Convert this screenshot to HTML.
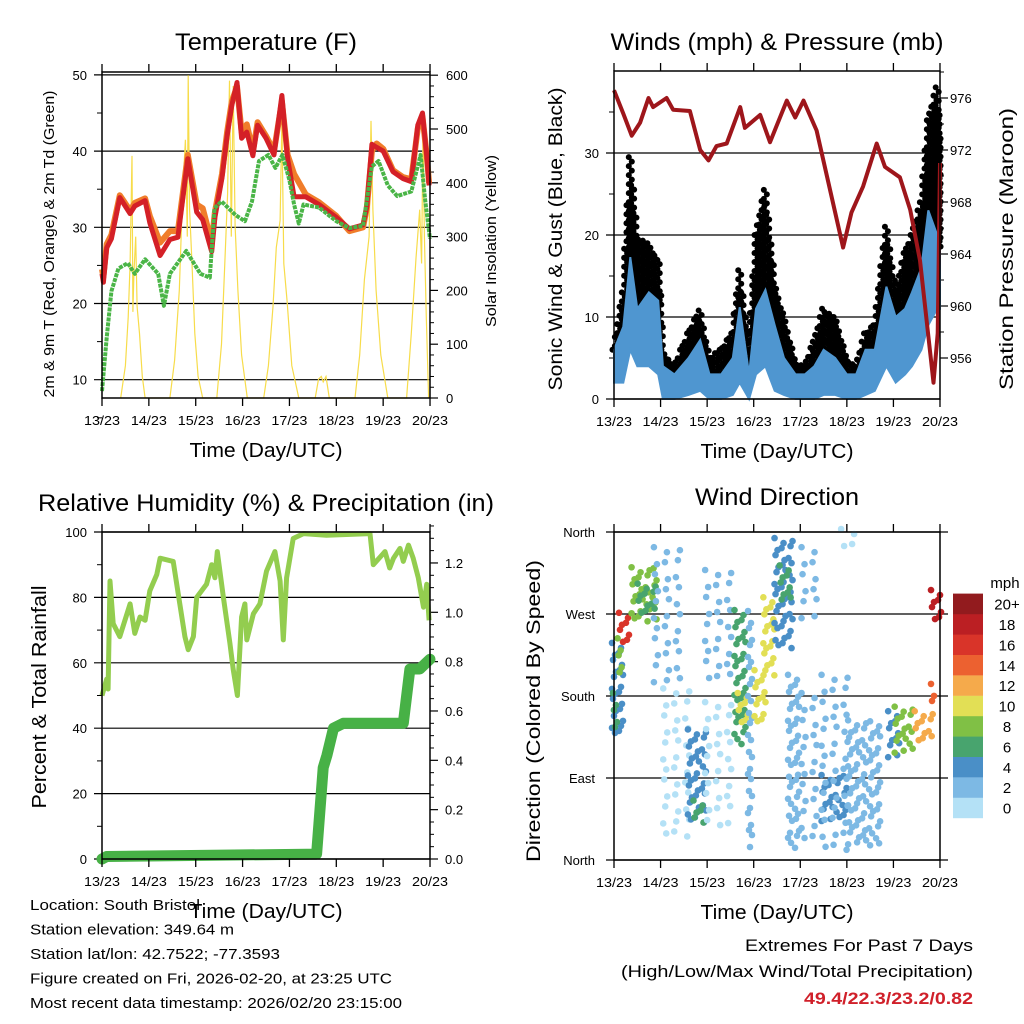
<!DOCTYPE html>
<html><head><meta charset="utf-8"><style>
html,body{margin:0;padding:0;background:#fff;}
svg{display:block;font-family:"Liberation Sans",sans-serif;}
</style></head><body>
<svg id="chart" width="1024" height="1024" viewBox="0 0 1024 1024"></svg>
<script>
// ---------- DATA ----------
const dayLabels=['13/23','14/23','15/23','16/23','17/23','18/23','19/23','20/23'];
const tempTicks=[10,20,30,40,50];
const solarTicks=[0,100,200,300,400,500,600];
const windTicks=[0,10,20,30];
const presTicks=[956,960,964,968,972,976];
const rhTicks=[0,20,40,60,80,100];
const precTicks=[0.0,0.2,0.4,0.6,0.8,1.0,1.2];
const dirTickLabels=['North','East','South','West','North'];
const dirTickDeg=[0,90,180,270,360];
const legendLabels=['0','2','4','6','8','10','12','14','16','18','20+'];

const tT=[0,0.03,0.1,0.2,0.38,0.6,0.7,0.92,1.02,1.24,1.45,1.62,1.83,2.02,2.15,2.34,2.41,2.56,2.67,2.77,2.88,2.98,3.09,3.22,3.32,3.5,3.67,3.84,3.96,4.1,4.35,4.63,5.0,5.28,5.57,5.65,5.76,5.86,6.0,6.21,6.42,6.6,6.74,6.84,6.93,6.98];
const tRed=[23.9,22.8,27.3,28.5,33.9,31.8,32.8,33.5,30.6,26.3,28.4,28.7,39,32,31,26.8,31.3,36.5,42,46,49,41.7,42.5,39.4,43.4,41.7,39.5,47.3,39,34,34,33,31.3,29.8,30.3,32.7,40.9,40.5,40,37.3,36.4,36,43.4,45,39.4,35.5];
const tOrange=[24.5,23.5,27.8,29,34.2,32.2,33.2,33.8,31.5,28,29.5,29.5,39.5,33,32.5,28,32,37,42.5,46.5,48.5,42.5,43.5,40,43.8,42,40,46.5,39.5,37,34.3,33.3,31.5,29.5,30,32.5,40,41,40.3,37.5,36.6,36.3,43,44.5,39.5,35.8];
const tdT=[0,0.1,0.2,0.35,0.55,0.7,0.92,1.2,1.32,1.45,1.8,2.1,2.3,2.4,2.55,2.85,3.05,3.2,3.35,3.55,3.7,3.85,4.0,4.1,4.2,4.3,4.63,5.0,5.28,5.57,5.76,5.9,6.1,6.3,6.6,6.8,6.9,7.0];
const tDew=[8.5,15.5,21.6,24.6,25.3,23.9,25.8,23.9,19.7,23.9,26.9,23.9,23.4,32.5,33.4,31.6,30.8,33.4,38.7,39.5,37.8,39.5,36.2,33,30.5,33,32.6,30.8,29.9,30.2,38,38.7,35.5,34.1,34.7,39.5,33.4,28.5];
const solT=[0.4,0.5,0.56,0.6,0.64,0.66,0.68,0.72,0.75,0.8,0.86,0.92,1.45,1.55,1.65,1.72,1.78,1.82,1.84,1.87,1.92,1.98,2.05,2.15,2.45,2.55,2.62,2.68,2.72,2.76,2.8,2.84,2.9,2.98,3.1,3.45,3.55,3.65,3.72,3.8,3.84,3.88,3.95,4.05,4.2,4.55,4.62,4.68,4.72,4.78,4.85,5.4,5.5,5.6,5.7,5.74,5.78,5.85,5.95,6.1,6.5,6.6,6.7,6.78,6.82,6.85,6.88,6.92,6.97];
const solV=[0,60,150,250,450,160,230,300,170,120,40,0,0,70,200,380,480,300,600,350,250,120,40,0,0,100,250,380,590,300,580,320,200,80,0,0,60,170,280,330,515,250,180,60,0,0,35,40,30,40,0,0,80,220,300,515,350,200,80,0,0,120,260,350,250,500,300,150,0];

const wT=[0,0.2,0.35,0.5,0.75,0.95,1.05,1.3,1.6,1.85,2.05,2.3,2.55,2.7,2.9,3.05,3.25,3.45,3.65,3.9,4.1,4.3,4.5,4.75,5.0,5.2,5.4,5.6,5.85,6.05,6.25,6.4,6.6,6.75,6.94,7.0];
const wLo=[2,2,6,4,4,3,0,0,0.5,1,0,0,0.5,2,0,3,4,1,0.5,0,0,0,0.5,0.5,0,0,0.5,1,4,2,3,4,6,9,11,11];
const wHi=[6,8.8,17.3,11,13,12,4,3,5,7.2,3,3,5,11.2,3,11,13.3,9,5,3,3,4,6,5,3,3,6,6,13.7,10,11,13,16,23,20,18];
const gHi=[6,13,29.5,19.8,19,17,6,4,8,10.8,5,6,8,15.7,6,20,25.5,14,10,4.5,4,7,11,10,5,4,8,9,21,13,17.8,20,24,34,38,30];
const pT=[0,0.2,0.38,0.56,0.74,0.84,1.13,1.27,1.63,1.85,2.03,2.2,2.42,2.71,2.81,3.14,3.35,3.71,3.89,4.07,4.35,4.92,5.1,5.35,5.64,5.82,6.14,6.36,6.57,6.86,6.95,7.0];
const pV=[976.6,974.8,973.1,974.1,976,975.3,976,975.1,975,972,971.2,972.3,972.5,975.3,973.7,974.7,972.6,975.8,974.5,975.8,973.5,964.5,967.2,969.2,972.5,970.7,969.9,967.4,963.5,954.1,957.9,971];

const rhT=[0,0.1,0.13,0.17,0.24,0.38,0.6,0.7,0.81,0.92,1.02,1.17,1.24,1.52,1.66,1.77,1.84,1.95,2.02,2.23,2.34,2.41,2.46,2.59,2.73,2.8,2.89,2.98,3.05,3.09,3.23,3.37,3.51,3.69,3.8,3.87,3.94,4.08,4.3,4.79,5.72,5.79,6.04,6.14,6.22,6.36,6.43,6.54,6.64,6.75,6.86,6.93,6.98];
const rhV=[50,55,52,85,72,68,78,69,74,73,82,87,92,91,78,68,64,68,80,84,90,86,94,80,66,58,50,74,78,67,75,78,88,94,85,67,86,98,99.5,99,99.5,90,94,89,92,95,91,96,92,86,77,84,73];
const prT=[0,0.1,4.58,4.72,4.8,4.94,5.15,6.43,6.57,6.78,7.0];
const prV=[0,0.01,0.02,0.37,0.42,0.53,0.55,0.55,0.77,0.77,0.81];

const segT0=[0,0.02,0.15,0.12,0.42,0.55,0.9,1.1,1.63,1.75,2.0,2.0,2.63,2.7,2.92,3.06,3.25,3.49,3.6,3.78,4.07,4.07,4.5,4.5,4.92,5.07,5.93,6.07,6.5,6.85,6.85];
const segT1=[0.15,0.12,0.42,0.25,1.0,0.9,1.55,1.6,1.99,1.95,2.63,2.6,2.92,2.85,3.06,3.25,3.49,3.85,3.75,4.07,4.5,4.5,5.07,5.07,5.2,5.78,6.21,6.5,6.93,7.0,6.95];
const segD0=[130,140,240,200,265,270,190,25,40,40,190,40,124,150,10,150,200,234,280,10,255,10,40,5,345,10,115,115,125,265,170];
const segD1=[235,180,268,240,318,300,340,185,140,62,315,170,271,180,270,205,285,350,320,200,340,180,90,200,360,150,160,165,160,293,190];
const segSpd=[4,6,16,8,9,6,2,1,4,6,2,0,6,10,3,10,11,4,6,3,2,2,4,2,1,3,5,9,13,19,14];

// ---------- HELPERS ----------
const NS='http://www.w3.org/2000/svg';
const svg=document.getElementById('chart');
function mk(tag,attrs,parent){const e=document.createElementNS(NS,tag);for(const k in attrs)e.setAttribute(k,attrs[k]);(parent||svg).appendChild(e);return e;}
function tx(x,y,s,size,anchor,len,parent,extra){
  const a=Object.assign({x:x,y:y,'font-size':size,'text-anchor':anchor||'middle',fill:'#000'},extra||{});
  if(len){a.textLength=len;a.lengthAdjust='spacingAndGlyphs';}
  const e=mk('text',a,parent);e.textContent=s;return e;}
function poly(xs,ys){return xs.map((x,i)=>x.toFixed(1)+','+ys[i].toFixed(1)).join(' ');}
const speedColors=['#b4e1f6','#7db9e4','#4a8fc7','#48a46e','#80c045','#e2df55','#f5aa4b','#ec6130','#d93429','#bb1f23','#921b1e'];
function spdColor(v){return speedColors[Math.min(10,Math.max(0,Math.floor(v/2)))];}

function frame(g,x0,x1,y0,y1,name){const r=mk('rect',{x:x0,y:y0,width:x1-x0,height:y1-y0,fill:'none',stroke:'#000','stroke-width':1.5},g);}
function xAxis(g,x0,step,yb,ytop){
  const ax=mk('g',{},g);
  
  
  dayLabels.forEach((d,i)=>{const x=x0+i*step;
    mk('line',{x1:x,x2:x,y1:yb,y2:yb+8,stroke:'#000','stroke-width':1.3},ax);
    mk('line',{x1:x,x2:x,y1:ytop,y2:ytop-8,stroke:'#000','stroke-width':1.3},ax);
    const t=tx(x,yb+27,d,13,'middle',36,ax);
    
    });
  const at=tx(x0+3.5*step,yb+59,'Time (Day/UTC)',20,'middle',153,ax);
  
  
}
function vlabel(x,yc,s,size,len,g,name){const e=tx(0,0,s,size,'middle',len,g,{transform:'translate('+x+','+yc+') rotate(-90)'});}

// ---------- PANEL 1: TEMPERATURE ----------
(function(){
const g=mk('g',{});
const X0=102,X1=430,Y0=72,Y1=398;
const xs=t=>X0+t*46.86, ys=v=>Y1-(v-7.6)*7.62, yS=s=>Y1-s*0.538;
const ti=tx(266,50,'Temperature (F)',24,'middle',182,g);
tempTicks.forEach(v=>{const y=ys(v);mk('line',{x1:X0-8,x2:X1,y1:y,y2:y,stroke:'#000','stroke-width':1.2},g);
  const l=tx(X0-15,y+5,String(v),13,'end',null,g);
  mk('line',{x1:X0-5,x2:X0,y1:ys(v-5),y2:ys(v-5),stroke:'#000'},g);});
solarTicks.forEach(v=>{const y=yS(v);mk('line',{x1:X1,x2:X1+8,y1:y,y2:y,stroke:'#000','stroke-width':1.2},g);
  const l=tx(X1+16,y+5,String(v),13,'start',null,g);
  for(let k=1;k<5&&v<600;k++)mk('line',{x1:X1,x2:X1+4,y1:yS(v+k*20),y2:yS(v+k*20),stroke:'#000'},g);});
const sol=mk('polyline',{points:poly(solT.map(xs),solV.map(yS)),fill:'none',stroke:'#f7dc4a','stroke-width':1.2},g);


const o=mk('polyline',{points:poly(tT.map(xs),tOrange.map(ys)),fill:'none',stroke:'#f07d2a','stroke-width':6,'stroke-linejoin':'round'},g);


const r=mk('polyline',{points:poly(tT.map(xs),tRed.map(ys)),fill:'none',stroke:'#d42027','stroke-width':5,'stroke-linejoin':'round'},g);


const gr=mk('polyline',{points:poly(tdT.map(xs),tDew.map(ys)),fill:'none',stroke:'#4ab547','stroke-width':4,'stroke-dasharray':'4 1','stroke-linejoin':'round'},g);


frame(g,X0,X1,Y0,Y1,'temperature-plot-frame');
xAxis(g,X0,46.86,Y1,Y0);
vlabel(54,244,'2m & 9m T (Red, Orange) & 2m Td (Green)',15,307,g,'temperature-y-title');
vlabel(496,241,'Solar Insolation (Yellow)',15,172,g,'solar-y-title');
})();

// ---------- PANEL 2: WINDS ----------
(function(){
const g=mk('g',{});
const X0=614,X1=940,Y0=71,Y1=399;
const xs=t=>X0+t*46.57, ys=v=>Y1-v*8.2, yp=p=>98+(976-p)*13;
const ti=tx(777,50,'Winds (mph) & Pressure (mb)',24,'middle',333,g);
windTicks.forEach(v=>{const y=ys(v);mk('line',{x1:X0-8,x2:X1,y1:y,y2:y,stroke:'#000','stroke-width':1.2},g);
  const l=tx(X0-15,y+5,String(v),13,'end',null,g);
  mk('line',{x1:X0-5,x2:X0,y1:ys(v+5),y2:ys(v+5),stroke:'#000'},g);});
presTicks.forEach(v=>{const y=yp(v);mk('line',{x1:X1,x2:X1+8,y1:y,y2:y,stroke:'#000','stroke-width':1.2},g);
  const l=tx(X1+10,y+5,String(v),13,'start',null,g);
  mk('line',{x1:X1,x2:X1+4,y1:yp(v+2),y2:yp(v+2),stroke:'#000'},g);});
const gd=mk('g',{fill:'#000'},g);


for(let i=0;i<wT.length-1;i++){
  const n=Math.max(3,Math.round((wT[i+1]-wT[i])*46.57/2.5));
  for(let k=0;k<n;k++){const f=k/n;const t=wT[i]+(wT[i+1]-wT[i])*f;
    const top=gHi[i]+(gHi[i+1]-gHi[i])*f, bot=wHi[i]+(wHi[i+1]-wHi[i])*f;
    const x=xs(t), yt=ys(top), yb=ys(bot);
    for(let y=yt+((k%3)*1.5),j=0;y<=yb+3;y+=4.5,j++){mk('circle',{cx:x+((j%2)?1.5:-1.5),cy:y,r:3},gd);}}}
const wx=wT.map(xs);
const band=mk('polygon',{points:poly(wx.concat(wx.slice().reverse()),wHi.map(ys).concat(wLo.map(ys).reverse())),fill:'#4f96d0',stroke:'#4f96d0','stroke-width':2},g);


const p=mk('polyline',{points:poly(pT.map(xs),pV.map(yp)),fill:'none',stroke:'#9e161b','stroke-width':4,'stroke-linejoin':'round'},g);


frame(g,X0,X1,Y0,Y1,'winds-plot-frame');
xAxis(g,X0,46.57,Y1,Y0);
vlabel(562,239,'Sonic Wind & Gust (Blue, Black)',19,303,g,'wind-y-title');
vlabel(1013,249,'Station Pressure (Maroon)',19,282,g,'pressure-y-title');
})();

// ---------- PANEL 3: RH & PRECIP ----------
(function(){
const g=mk('g',{});
const X0=102,X1=430,Y0=532,Y1=859;
const xs=t=>X0+t*46.86, ys=v=>Y1-v*3.27, yp=p=>Y1-p*246.7;
const ti=tx(266,511,'Relative Humidity (%) & Precipitation (in)',24,'middle',456,g);
rhTicks.forEach(v=>{const y=ys(v);mk('line',{x1:X0-8,x2:X1,y1:y,y2:y,stroke:'#000','stroke-width':1.2},g);
  const l=tx(X0-15,y+5,String(v),13,'end',null,g);
  if(v<100)mk('line',{x1:X0-5,x2:X0,y1:ys(v+10),y2:ys(v+10),stroke:'#000'},g);});
precTicks.forEach(v=>{const y=yp(v);mk('line',{x1:X1,x2:X1+8,y1:y,y2:y,stroke:'#000','stroke-width':1.2},g);
  const l=tx(X1+15,y+5,v.toFixed(1),13,'start',null,g);
  for(let k=1;k<4;k++)mk('line',{x1:X1,x2:X1+4,y1:yp(v+k*0.05),y2:yp(v+k*0.05),stroke:'#000'},g);});
const rh=mk('polyline',{points:poly(rhT.map(xs),rhV.map(ys)),fill:'none',stroke:'#93cd4f','stroke-width':5,'stroke-linejoin':'round'},g);


const pr=mk('polyline',{points:poly(prT.map(xs),prV.map(yp)),fill:'none',stroke:'#47b146','stroke-width':11,'stroke-linejoin':'round','stroke-linecap':'round'},g);


frame(g,X0,X1,Y0,Y1,'humidity-plot-frame');
xAxis(g,X0,46.86,Y1,Y0);
vlabel(46,697,'Percent & Total Rainfall',20,223,g,'humidity-y-title');
})();

// ---------- PANEL 4: WIND DIRECTION ----------
(function(){
const g=mk('g',{});
const X0=614,X1=940,Y0=532,Y1=860;
const xs=t=>X0+t*46.57, ys=d=>Y1-d*328/360;
const ti=tx(777,505,'Wind Direction',24,'middle',164,g);
dirTickDeg.forEach((d,i)=>{const y=ys(d);mk('line',{x1:X0-8,x2:X1+8,y1:y,y2:y,stroke:'#000','stroke-width':1.2},g);
  const l=tx(X0-19,y+5,dirTickLabels[i],13,'end',null,g);});
const dots=mk('g',{},g);


for(let s=0;s<segT0.length;s++){
  const x0=xs(segT0[s]),x1=xs(segT1[s]),ya=ys(segD1[s]),yb=ys(segD0[s]);
  const sp=segSpd[s]<=2?11:7, spy=segSpd[s]<=2?13:8;
  const c=spdColor(segSpd[s]);
  let i=0;
  for(let x=x0;x<=x1+0.1;x+=sp){let j=0;
    for(let y=ya;y<=yb+0.1;y+=spy){const dx=((i*7+j*3)%5)-2, dy=((i*5+j*11)%7)-3;
      mk('circle',{cx:x+dx,cy:y+dy,r:3.3,fill:c},dots);j++;}
    i++;}
}
frame(g,X0,X1,Y0,Y1,'direction-plot-frame');
xAxis(g,X0,46.57,Y1,Y0);
vlabel(540,711,'Direction (Colored By Speed)',19,302,g,'direction-y-title');
// legend
const lg=mk('g',{},g);


const m=tx(1005,588,'mph',15,'middle',null,lg);


legendLabels.forEach((l,i)=>{const y=818-(i+1)*20.4;
  const b=mk('rect',{x:953,y:y,width:30,height:20.6,fill:speedColors[i]},lg);
  
  
  const t=tx(1007,y+16,l,15,'middle',null,lg);
  
  });
})();

// ---------- FOOTER ----------
(function(){
const g=mk('g',{});
const lines=[['Location: South Bristol',170],['Station elevation: 349.64 m',204],['Station lat/lon: 42.7522; -77.3593',250],['Figure created on Fri, 2026-02-20, at 23:25 UTC',362],['Most recent data timestamp: 2026/02/20 23:15:00',372]];
lines.forEach((l,i)=>{const t=tx(30,910+i*24.5,l[0],15,'start',l[1],g);});
const a=tx(973,951,'Extremes For Past 7 Days',17,'end',228,g);
const b=tx(973,977,'(High/Low/Max Wind/Total Precipitation)',17,'end',352,g);
const c=tx(973,1004,'49.4/22.3/23.2/0.82',17,'end',169,g,{fill:'#d0202a','font-weight':'bold'});
})();
</script>
</body></html>
